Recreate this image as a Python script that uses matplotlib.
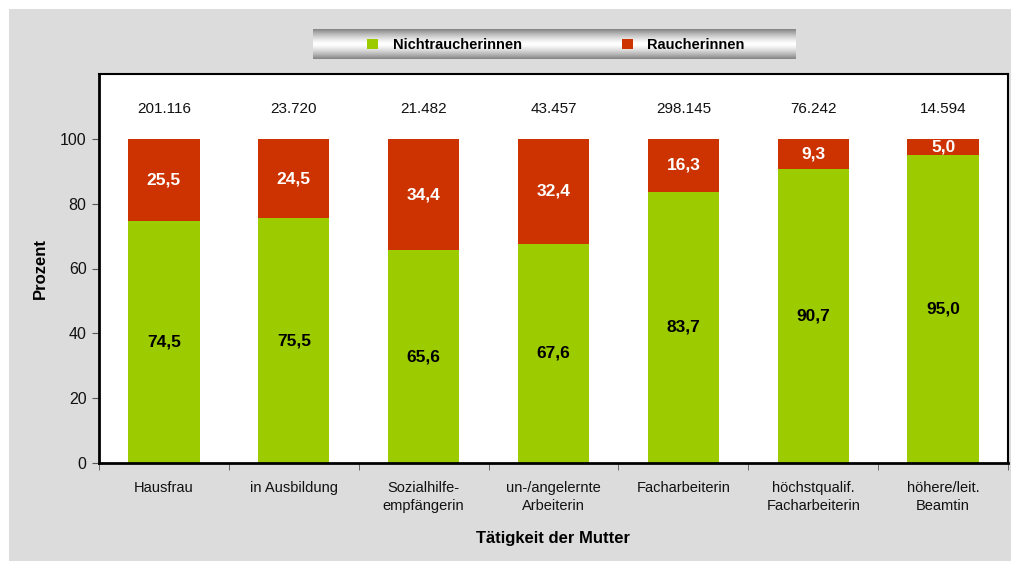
import matplotlib
matplotlib.use('Agg')
import matplotlib.pyplot as plt
import numpy as np
from matplotlib.patches import Rectangle

plt.rcParams['font.family'] = ['Liberation Sans', 'DejaVu Sans']

categories = ['Hausfrau', 'in Ausbildung', 'Sozialhilfe-\nempfängerin', 'un-/angelernte\nArbeiterin',
              'Facharbeiterin', 'höchstqualif.\nFacharbeiterin', 'höhere/leit.\nBeamtin']
nichtraucher = [74.5, 75.5, 65.6, 67.6, 83.7, 90.7, 95.0]
raucher = [25.5, 24.5, 34.4, 32.4, 16.3, 9.3, 5.0]
totals = ['201.116', '23.720', '21.482', '43.457', '298.145', '76.242', '14.594']

green = '#9ccc00'
red = '#cc3300'

fig = plt.figure(figsize=(10.12, 5.61), dpi=100)
fig.patches.append(Rectangle((9 / 1012, 0), 1, 552 / 561, transform=fig.transFigure,
                             facecolor='#dcdcdc', edgecolor='none', zorder=-10))

ax = fig.add_axes([99 / 1012, 98 / 561, 909 / 1012, 389 / 561])
x = np.arange(len(categories))
b1 = ax.bar(x, nichtraucher, width=0.55, color=green, label='Nichtraucherinnen')
b2 = ax.bar(x, raucher, width=0.55, bottom=nichtraucher, color=red, label='Raucherinnen')

for i in range(len(categories)):
    ax.text(x[i], nichtraucher[i] / 2, f'{nichtraucher[i]:.1f}'.replace('.', ','),
            ha='center', va='center', fontsize=12.5, fontweight='bold', color='black')
    ax.text(x[i], nichtraucher[i] + raucher[i] / 2, f'{raucher[i]:.1f}'.replace('.', ','),
            ha='center', va='center', fontsize=12.5, fontweight='bold', color='white')
    ax.text(x[i], 109.3, totals[i], ha='center', va='center', fontsize=11, color='#111111')

ax.set_xlim(-0.5, len(categories) - 0.5)
ax.set_ylim(0, 120)
ax.set_yticks([0, 20, 40, 60, 80, 100])
ax.tick_params(axis='y', labelsize=11.5, length=5, color='#555555', labelcolor='#111111', pad=4)
ax.set_xticks(x)
ax.set_xticklabels(categories, fontsize=10.5, color='#111111', linespacing=1.35)
ax.set_xticks(np.arange(-0.5, len(categories)), minor=True)
ax.tick_params(axis='x', which='major', length=0, pad=13)
ax.tick_params(axis='x', which='minor', length=5, color='#555555')
for s in ax.spines.values():
    s.set_linewidth(1.5)
    s.set_color('black')
ax.spines['left'].set_linewidth(2)
ax.spines['bottom'].set_linewidth(2)

ax.set_xlabel('Tätigkeit der Mutter', fontsize=12, fontweight='bold', labelpad=13)
ax.set_ylabel('Prozent', fontsize=12, fontweight='bold', labelpad=9)

# legend box with grey gradient
lax = fig.add_axes([313 / 1012, (561 - 59) / 561, 483 / 1012, 30 / 561])
t = np.linspace(-1, 1, 60)
prof = 0.52 + 0.48 * (1 - np.abs(t) ** 1.4)
lax.imshow(np.tile(prof[:, None], (1, 10)), cmap='gray', vmin=0, vmax=1, aspect='auto',
           extent=[0, 1, 0, 1])
lax.set_axis_off()
leg = fig.legend(handles=[b1, b2], loc='center', bbox_to_anchor=(556 / 1012, (561 - 45) / 561),
                 ncol=2, frameon=False, handlelength=0.72, handleheight=0.72, handletextpad=1.0,
                 columnspacing=6.9, prop={'size': 10.5, 'weight': 'bold'})

fig.savefig('out.png', dpi=100)
